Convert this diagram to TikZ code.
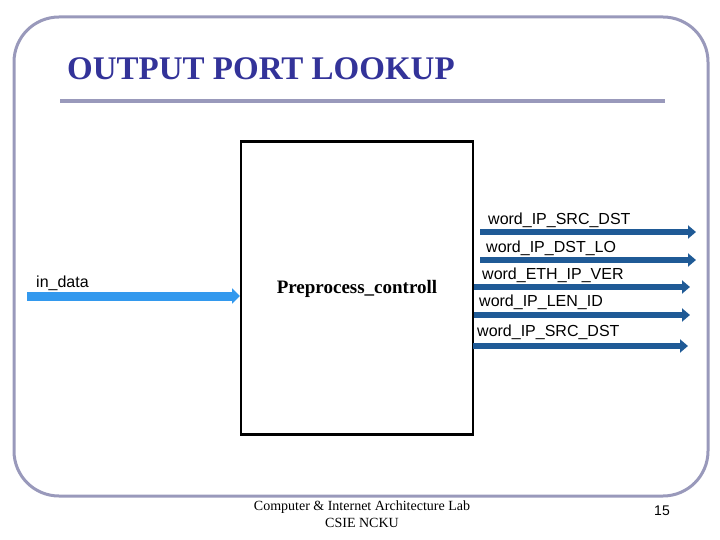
\documentclass[tikz,border=0pt]{standalone}
\usepackage{fontspec}
\setmainfont{Liberation Serif}
\setsansfont{Liberation Sans}
\usetikzlibrary{arrows.meta}
\definecolor{framec}{RGB}{153,153,187}
\definecolor{titlec}{RGB}{51,51,153}
\definecolor{darkarr}{RGB}{31,90,150}
\definecolor{lightarr}{RGB}{51,153,238}
\tikzset{
  outarrow/.style={draw=darkarr, line width=5.5pt, -{Triangle[length=8pt,width=13pt]}},
  inarrow/.style={draw=lightarr, line width=9pt, -{Triangle[length=8pt,width=15pt]}},
  siglabel/.style={anchor=west, inner sep=0pt, font=\sffamily\fontsize{16}{18}\selectfont},
  blockbox/.style={draw=black, line width=2.5pt, minimum width=232pt, minimum height=293pt, inner sep=0pt}
}
\begin{document}
\begin{tikzpicture}[x=1pt,y=-1pt]
\useasboundingbox (0,0) rectangle (720,540);
% frame
\draw[framec, line width=3pt, rounded corners=45pt] (14,17) rectangle (708,496);
% title
\node[anchor=base west, inner sep=0pt, text=titlec, font=\fontsize{33}{36}\selectfont\bfseries] (title) at (67,80) {OUTPUT PORT LOOKUP};
\draw[framec, line width=4pt] (60,101) -- (665,101);
% main block
\node[blockbox] (pc) at (357,288) {};
\node[font=\fontsize{19}{22}\selectfont\bfseries, inner sep=0pt] (pclabel) at (357,289) {Preprocess\_controll};
% input
\coordinate (inS) at (27,296);
\coordinate (inE) at (240,296);
\draw[inarrow] (inS) -- (inE);
\node[siglabel] (inlab) at (36,283) {in\_data};
% outputs
\coordinate (o1s) at (480,232); \coordinate (o1e) at (696,232);
\coordinate (o2s) at (480,260); \coordinate (o2e) at (696,260);
\coordinate (o3s) at (474,287); \coordinate (o3e) at (690,287);
\coordinate (o4s) at (474,315); \coordinate (o4e) at (690,315);
\coordinate (o5s) at (473,346); \coordinate (o5e) at (688,346);
\draw[outarrow] (o1s) -- (o1e);
\draw[outarrow] (o2s) -- (o2e);
\draw[outarrow] (o3s) -- (o3e);
\draw[outarrow] (o4s) -- (o4e);
\draw[outarrow] (o5s) -- (o5e);
\node[siglabel] (l1) at (488,220) {word\_IP\_SRC\_DST};
\node[siglabel] (l2) at (486,248) {word\_IP\_DST\_LO};
\node[siglabel] (l3) at (482,275) {word\_ETH\_IP\_VER};
\node[siglabel] (l4) at (479,302) {word\_IP\_LEN\_ID};
\node[siglabel] (l5) at (477,332) {word\_IP\_SRC\_DST};
% footer
\node[align=center, inner sep=0pt, font=\fontsize{14}{16.5}\selectfont] (foot) at (362,514) {Computer \& Internet Architecture Lab\\CSIE NCKU};
\node[inner sep=0pt, font=\sffamily\fontsize{14}{16}\selectfont] (page) at (662,511) {15};
\end{tikzpicture}
\end{document}
